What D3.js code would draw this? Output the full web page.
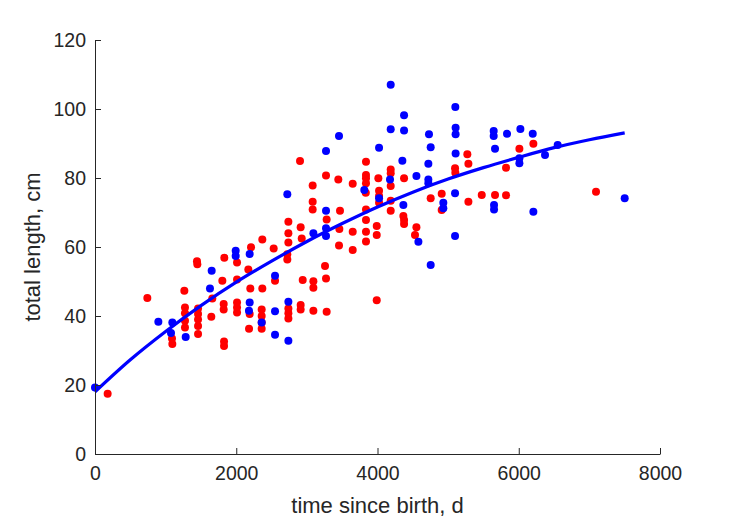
<!DOCTYPE html>
<html>
<head>
<meta charset="utf-8">
<script src="https://cdn.jsdelivr.net/npm/d3@7"></script>
<style>
  html, body { margin: 0; padding: 0; background: #ffffff; }
  svg { display: block; }
  text { font-family: "Liberation Sans", Arial, Helvetica, sans-serif; }
</style>
</head>
<body>
<script>
// ---- data ----
const xTicks = [0, 2000, 4000, 6000, 8000];
const yTicks = [0, 20, 40, 60, 80, 100, 120];
const xLabel = "time since birth, d";
const yLabel = "total length, cm";

// red series: [time (d), length (cm)]
const redPoints = [
  [179,17.5],[741,45.2],[1090,33.5],[1095,31.9],[1265,47.3],[1274,42.5],[1274,40.8],[1274,38.6],[1274,36.7],
  [1444,55.9],[1449,55.0],[1459,42.2],[1459,40.6],[1459,39.0],[1459,37.1],[1459,34.8],[1661,45.1],[1647,39.8],
  [1831,56.9],[1803,50.2],[1822,43.5],[1822,41.9],[1827,32.6],[1827,31.3],[2011,55.5],[2011,50.6],[2011,43.9],
  [2011,42.5],[2011,41.0],[2209,59.9],[2171,53.5],[2199,48.0],[2190,40.6],[2181,36.3],[2369,62.2],[2369,48.0],
  [2360,41.9],[2360,40.0],[2360,38.1],[2360,36.3],[2530,59.6],[2549,50.2],[2903,84.9],[3837,84.7],[3837,80.9],
  [3837,79.9],[3837,78.5],[3271,80.7],[3445,79.6],[3649,78.3],[3082,77.8],[3082,73.1],[3082,70.9],[3469,70.5],
  [3280,68.0],[2738,67.3],[2912,65.7],[3460,65.2],[3649,64.4],[2738,64.0],[2927,62.5],[3455,60.4],[3649,59.1],
  [3837,70.9],[3837,67.8],[3837,64.4],[3837,61.6],[3989,66.1],[3989,63.5],[2738,61.3],[2723,57.9],[2723,56.4],
  [3257,54.5],[3271,50.9],[2941,50.4],[3092,50.1],[3092,48.2],[2738,42.2],[2738,40.8],[2738,39.3],[2912,43.2],
  [2912,41.9],[3092,41.5],[3280,41.2],[3989,44.6],[4012,79.9],[4022,76.3],[4022,74.8],[4022,72.8],[4187,82.5],
  [4187,81.4],[4187,77.7],[4187,73.4],[4187,70.5],[4376,79.9],[4366,69.0],[4376,67.8],[4376,66.7],[4551,65.7],
  [4531,63.5],[4753,74.1],[4909,75.4],[4909,70.7],[5098,82.8],[5102,81.5],[5272,86.9],[5287,84.1],[5287,73.1],
  [5476,75.1],[5664,75.1],[5820,75.0],[5820,83.0],[6009,88.5],[6207,89.9],[7094,76.0],[3834,75.7]
];

// blue series: [time (d), length (cm)]
const bluePoints = [
  [0,19.3],[897,38.3],[1095,38.1],[1076,35.1],[1284,33.9],[1652,53.1],[1628,48.0],[1992,58.9],[1992,57.4],
  [2190,58.0],[2190,43.9],[2180,41.5],[2360,38.1],[2549,51.7],[2549,41.4],[2549,34.6],[2723,75.3],[2738,44.1],
  [2738,32.8],[3271,87.8],[3455,92.2],[3813,76.5],[3271,70.5],[3271,65.4],[3271,63.2],[3092,64.0],[4187,107.0],
  [4376,98.2],[4187,94.1],[4376,93.8],[4022,88.8],[4729,92.7],[4753,88.9],[5102,100.6],[5106,94.6],[5106,92.7],
  [5645,93.6],[5645,92.2],[5664,88.5],[4022,74.1],[4177,79.6],[4352,85.0],[4366,72.2],[4551,80.6],[4579,61.5],
  [4720,84.1],[4720,79.6],[4720,78.5],[4932,72.8],[4932,71.2],[4753,54.8],[5098,63.2],[5098,75.6],[5106,87.1],
  [5650,72.2],[5650,70.9],[5834,92.8],[6023,94.2],[6198,92.8],[6551,89.6],[6372,86.7],[6009,85.7],[6009,84.3],
  [6207,70.2],[7500,74.1]
];

// fitted growth curve
const fitT = [0, 500, 1000, 1500, 2000, 2500, 3000, 3500, 4000, 4500, 5000, 5500, 6000, 6500, 7000, 7500];
const fitL = [18.0, 27.3, 35.5, 43.0, 49.8, 55.9, 61.6, 66.8, 71.6, 75.9, 79.7, 83.0, 86.0, 88.8, 91.1, 93.1];

// ---- drawing ----
const W = 729, H = 521;
const mLeft = 95, mRight = 660, mTop = 40, mBottom = 454;
const ink = "#262626";

const svg = d3.select("body").append("svg")
  .attr("width", W).attr("height", H)
  .style("background", "#ffffff");

const x = d3.scaleLinear().domain([0, 8000]).range([mLeft, mRight]);
const y = d3.scaleLinear().domain([0, 120]).range([mBottom, mTop]);

// points
svg.append("g").selectAll("circle").data(redPoints).join("circle")
  .attr("cx", d => x(d[0])).attr("cy", d => y(d[1])).attr("r", 4)
  .attr("fill", "#ff0000");
svg.append("g").selectAll("circle").data(bluePoints).join("circle")
  .attr("cx", d => x(d[0])).attr("cy", d => y(d[1])).attr("r", 4)
  .attr("fill", "#0000ff");

// fit line
const fit = fitT.map((t, i) => [t, fitL[i]]);
svg.append("path").datum(fit)
  .attr("fill", "none").attr("stroke", "#0000ff").attr("stroke-width", 3.2)
  .attr("stroke-linejoin", "round")
  .attr("d", d3.line().x(d => x(d[0])).y(d => y(d[1])).curve(d3.curveMonotoneX));

// axes
const xAxis = svg.append("g").attr("transform", `translate(0,${mBottom})`)
  .call(d3.axisBottom(x).tickValues(xTicks).tickSizeInner(-6).tickSizeOuter(0).tickPadding(12)
    .tickFormat(d3.format("d")));
const yAxis = svg.append("g").attr("transform", `translate(${mLeft},0)`)
  .call(d3.axisLeft(y).tickValues(yTicks).tickSizeInner(-6).tickSizeOuter(0).tickPadding(9)
    .tickFormat(d3.format("d")));

[xAxis, yAxis].forEach(a => {
  a.select(".domain").attr("stroke", ink).attr("stroke-width", 1);
  a.selectAll(".tick line").attr("stroke", ink).attr("stroke-width", 1);
  a.selectAll(".tick text").attr("fill", ink).style("font-size", "19.5px")
    .style("font-family", '"Liberation Sans", Arial, Helvetica, sans-serif');
});

// axis labels
svg.append("text")
  .attr("x", (mLeft + mRight) / 2).attr("y", 513)
  .attr("text-anchor", "middle").attr("fill", ink)
  .style("font-size", "22px").text(xLabel);
svg.append("text")
  .attr("transform", `translate(40,${(mTop + mBottom) / 2}) rotate(-90)`)
  .attr("text-anchor", "middle").attr("fill", ink)
  .style("font-size", "22px").text(yLabel);
</script>
</body>
</html>
